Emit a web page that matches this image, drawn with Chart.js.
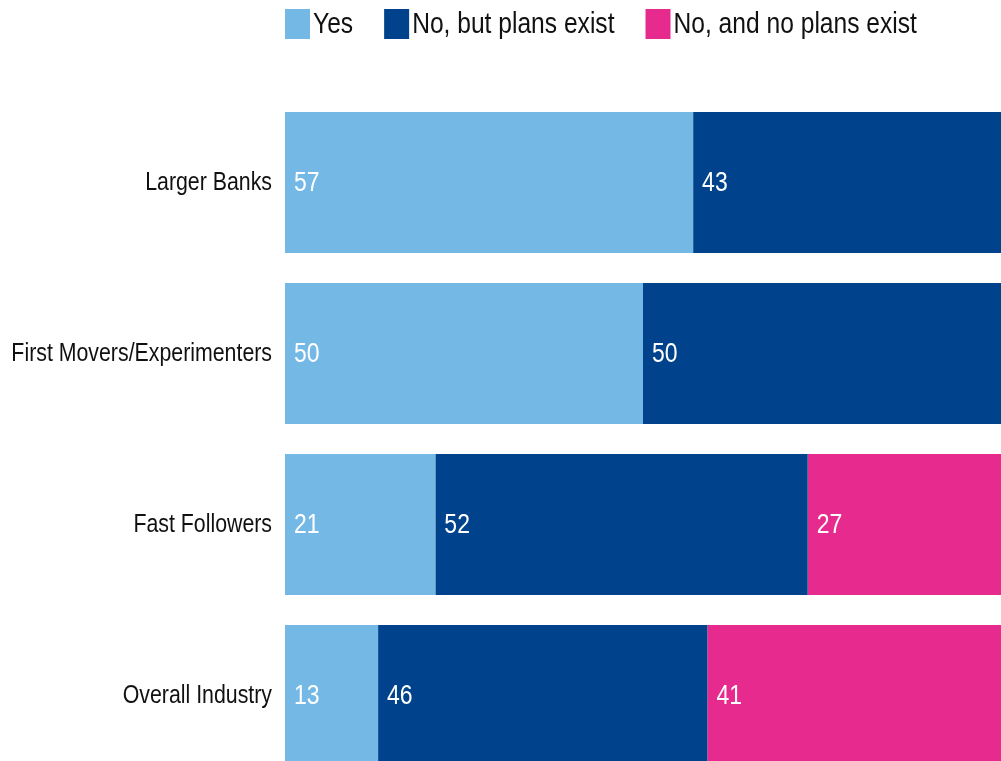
<!DOCTYPE html>
<html>
<head>
<meta charset="utf-8">
<script src="https://cdn.jsdelivr.net/npm/chart.js@4/dist/chart.umd.min.js"></script>
<style>
  html, body { margin: 0; padding: 0; background: #fff; overflow: hidden; }
  #wrap { width: 1001px; height: 781px; position: relative; }
</style>
</head>
<body>
<div id="wrap"><canvas id="chart" width="1001" height="781"></canvas></div>
<script>
const categories = ['Larger Banks', 'First Movers/Experimenters', 'Fast Followers', 'Overall Industry'];
const yesValues = [57, 50, 21, 13];
const plansValues = [43, 50, 52, 46];
const noPlansValues = [0, 0, 27, 41];
const seriesNames = ['Yes', 'No, but plans exist', 'No, and no plans exist'];
const seriesColors = ['#74B8E6', '#00438C', '#E62A8E'];

const FONT = "'Liberation Sans', Arial, sans-serif";
const SQUEEZE = 0.82; // condensed lettering

// White value labels at the left end of each segment
const segmentLabels = {
  id: 'segmentLabels',
  afterDatasetsDraw(chart) {
    const ctx = chart.ctx;
    chart.data.datasets.forEach((ds, i) => {
      const meta = chart.getDatasetMeta(i);
      meta.data.forEach((bar, j) => {
        const v = ds.data[j];
        if (!v) return;
        const x = bar.base + 9;
        ctx.save();
        ctx.translate(x, bar.y);
        ctx.scale(SQUEEZE, 1);
        ctx.fillStyle = '#ffffff';
        ctx.font = '28px ' + FONT;
        ctx.textAlign = 'left';
        ctx.textBaseline = 'middle';
        ctx.fillText(String(v), 0, 1);
        ctx.restore();
      });
    });
  }
};

// Condensed category labels: wrap the y scale's own label drawing
const condensedTicks = {
  id: 'condensedTicks',
  beforeDraw(chart) {
    const scale = chart.scales.y;
    if (scale._condensed) return;
    const drawLabels = scale.drawLabels;
    scale.drawLabels = function (area) {
      const ctx = this.ctx;
      const pivot = this.right - this.options.ticks.padding;
      ctx.save();
      ctx.translate(pivot, 0);
      ctx.scale(SQUEEZE, 1);
      ctx.translate(-pivot, 0);
      // the scale's clip box would cut long labels once squeezed
      ctx.clip = function () {};
      drawLabels.call(this, area);
      delete ctx.clip;
      ctx.restore();
    };
    scale._condensed = true;
  }
};

// Legend row above the plot, starting at the plot's left edge
const topLegend = {
  id: 'topLegend',
  afterDraw(chart) {
    const ctx = chart.ctx;
    const boxW = 25, boxH = 30, boxTop = 9, textGap = 3, itemGap = 31;
    let x = chart.chartArea.left;
    ctx.save();
    ctx.font = '30px ' + FONT;
    ctx.textBaseline = 'middle';
    ctx.textAlign = 'left';
    chart.data.datasets.forEach(ds => {
      ctx.fillStyle = ds.backgroundColor;
      ctx.fillRect(x, boxTop, boxW, boxH);
      const tx = x + boxW + textGap;
      const w = ctx.measureText(ds.label).width * SQUEEZE;
      ctx.save();
      ctx.translate(tx, boxTop + boxH / 2 + 1);
      ctx.scale(SQUEEZE, 1);
      ctx.fillStyle = '#111';
      ctx.fillText(ds.label, 0, 0);
      ctx.restore();
      x = tx + w + itemGap;
    });
    ctx.restore();
  }
};

new Chart(document.getElementById('chart'), {
  type: 'bar',
  data: {
    labels: categories,
    datasets: [
      { label: seriesNames[0], data: yesValues, backgroundColor: seriesColors[0] },
      { label: seriesNames[1], data: plansValues, backgroundColor: seriesColors[1] },
      { label: seriesNames[2], data: noPlansValues, backgroundColor: seriesColors[2] }
    ]
  },
  options: {
    indexAxis: 'y',
    responsive: false,
    animation: false,
    layout: { padding: { top: 97, left: 0, right: 0, bottom: 0 } },
    datasets: { bar: { categoryPercentage: 0.825, barPercentage: 1, borderWidth: 0 } },
    scales: {
      x: { stacked: true, min: 0, max: 100, display: false },
      y: {
        stacked: true,
        grid: { display: false, drawTicks: false },
        border: { display: false },
        ticks: { color: '#111', padding: 13, font: { family: FONT, size: 26 } },
        afterFit(scale) {
          scale.width = 285;
          scale.paddingTop = 0;
          scale.paddingBottom = 0;
        }
      }
    },
    plugins: {
      legend: { display: false },
      tooltip: { enabled: false }
    }
  },
  plugins: [segmentLabels, condensedTicks, topLegend]
});
</script>
</body>
</html>
